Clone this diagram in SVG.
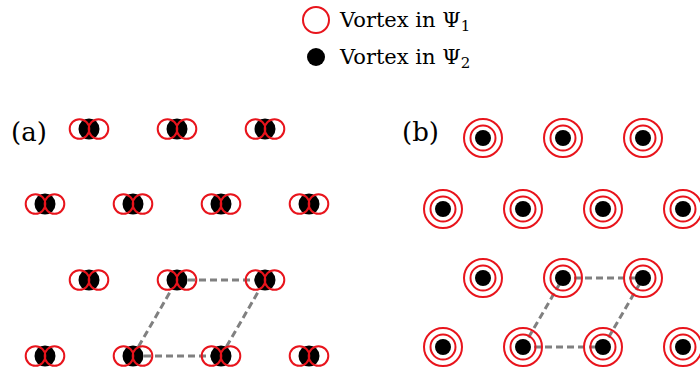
<svg xmlns="http://www.w3.org/2000/svg" width="700" height="373" viewBox="0 0 700 373">
<defs>
<style>
.lbl{font-family:"DejaVu Serif",serif;fill:#000}
.red{fill:none;stroke:#e8141c;stroke-width:2}
.blk{fill:#000}
.dash{fill:none;stroke:#808080;stroke-width:3;stroke-dasharray:7 4}
</style>
<g id="va">
<ellipse class="blk" cx="0" cy="0" rx="10.5" ry="10.5"/>
<circle class="red" cx="-9.5" cy="0" r="9.8"/>
<circle class="red" cx="9.5" cy="0" r="9.8"/>
</g>
<g id="vb">
<circle class="red" cx="0" cy="0" r="19"/>
<circle class="red" cx="0" cy="0" r="12.5"/>
<circle class="blk" cx="0" cy="0" r="8"/>
</g>
</defs>
<rect width="700" height="373" fill="#fff"/>
<g id="legend">
<circle class="red" cx="316" cy="20" r="13"/>
<text class="lbl" x="340" y="27" font-size="21">Vortex in Ψ<tspan font-size="15" dy="4">1</tspan></text>
<circle class="blk" cx="316" cy="57" r="9"/>
<text class="lbl" x="340" y="64" font-size="21">Vortex in Ψ<tspan font-size="15" dy="4">2</tspan></text>
</g>
<g id="label-a"><text class="lbl" x="11" y="141" font-size="26">(a)</text></g>
<g id="label-b"><text class="lbl" x="402" y="141" font-size="26">(b)</text></g>
<g id="connectors">
<path class="dash" d="M133 356 L221 356 M177 280 L265 280 M133 356 L177 280 M221 356 L265 280"/>
<path class="dash" d="M523 347 L603 347 M563 278 L643 278 M523 347 L563 278 M603 347 L643 278"/>
</g>
<g id="panel-a">
<use href="#va" x="89" y="129"/>
<use href="#va" x="177" y="129"/>
<use href="#va" x="265" y="129"/>
<use href="#va" x="45" y="204"/>
<use href="#va" x="133" y="204"/>
<use href="#va" x="221" y="204"/>
<use href="#va" x="309" y="204"/>
<use href="#va" x="89" y="280"/>
<use href="#va" x="177" y="280"/>
<use href="#va" x="265" y="280"/>
<use href="#va" x="45" y="356"/>
<use href="#va" x="133" y="356"/>
<use href="#va" x="221" y="356"/>
<use href="#va" x="309" y="356"/>
</g>
<g id="panel-b">
<use href="#vb" x="483" y="138"/>
<use href="#vb" x="563" y="138"/>
<use href="#vb" x="643" y="138"/>
<use href="#vb" x="443" y="209"/>
<use href="#vb" x="523" y="209"/>
<use href="#vb" x="603" y="209"/>
<use href="#vb" x="683" y="209"/>
<use href="#vb" x="483" y="278"/>
<use href="#vb" x="563" y="278"/>
<use href="#vb" x="643" y="278"/>
<use href="#vb" x="443" y="347"/>
<use href="#vb" x="523" y="347"/>
<use href="#vb" x="603" y="347"/>
<use href="#vb" x="683" y="347"/>
</g>
</svg>
